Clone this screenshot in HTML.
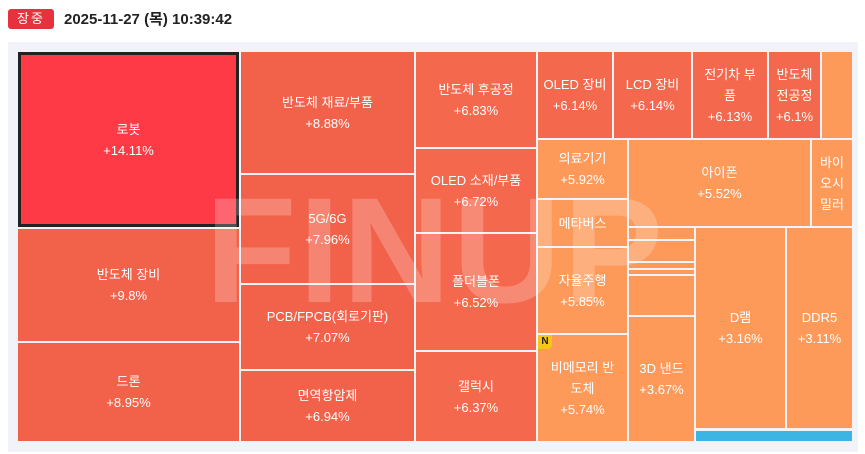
<!DOCTYPE html>
<html><head><meta charset="utf-8"><style>
body{margin:0;width:865px;height:454px;background:#fff;font-family:"Liberation Sans","Noto Sans CJK KR",sans-serif;position:relative;overflow:hidden}
.badge{position:absolute;left:8px;top:9px;width:46px;height:20px;background:#e5323c;color:#fff;font-size:13px;line-height:20px;text-align:center;border-radius:3px;letter-spacing:2px}
.time{position:absolute;left:64px;top:9px;font-size:15px;font-weight:bold;color:#222;line-height:22px}
.box{position:absolute;left:8px;top:42px;width:850px;height:410px;background:#f1f3f8}
.c{position:absolute;color:#fff;font-size:13px;line-height:21px;display:flex;align-items:center;justify-content:center;text-align:center;box-sizing:border-box}
.r{background:#f2624b}.o{background:#fd9a5a}.m{background:#f4694d}
.wm{position:absolute;left:205px;top:175px;font-size:150px;font-weight:bold;color:rgba(255,255,255,0.22);letter-spacing:2px;font-family:"Liberation Sans",sans-serif;line-height:150px}
</style></head><body>
<div class="badge">장중</div>
<div class="time">2025-11-27 (목) 10:39:42</div>
<div class="box"></div>
<div class="c" style="left:18px;top:52px;width:221px;height:175px;background:#ff3a47;border:3px solid #222">로봇<br>+14.11%</div>
<div class="c r" style="left:18px;top:229px;width:221px;height:112px">반도체 장비<br>+9.8%</div>
<div class="c r" style="left:18px;top:343px;width:221px;height:98px">드론<br>+8.95%</div>
<div class="c r" style="left:241px;top:52px;width:173px;height:121px">반도체 재료/부품<br>+8.88%</div>
<div class="c r" style="left:241px;top:175px;width:173px;height:108px">5G/6G<br>+7.96%</div>
<div class="c r" style="left:241px;top:285px;width:173px;height:84px">PCB/FPCB(회로기판)<br>+7.07%</div>
<div class="c r" style="left:241px;top:371px;width:173px;height:70px">면역항암제<br>+6.94%</div>
<div class="c m" style="left:416px;top:52px;width:120px;height:95px">반도체 후공정<br>+6.83%</div>
<div class="c m" style="left:416px;top:149px;width:120px;height:83px">OLED 소재/부품<br>+6.72%</div>
<div class="c m" style="left:416px;top:234px;width:120px;height:116px">폴더블폰<br>+6.52%</div>
<div class="c m" style="left:416px;top:352px;width:120px;height:89px">갤럭시<br>+6.37%</div>
<div class="c m" style="left:538px;top:52px;width:74px;height:86px">OLED 장비<br>+6.14%</div>
<div class="c m" style="left:614px;top:52px;width:77px;height:86px">LCD 장비<br>+6.14%</div>
<div class="c m" style="left:693px;top:52px;width:74px;height:86px">전기차 부<br>품<br>+6.13%</div>
<div class="c m" style="left:769px;top:52px;width:51px;height:86px">반도체<br>전공정<br>+6.1%</div>
<div class="c o" style="left:822px;top:52px;width:30px;height:86px"></div>
<div class="c o" style="left:538px;top:140px;width:89px;height:58px">의료기기<br>+5.92%</div>
<div class="c o" style="left:538px;top:200px;width:89px;height:46px">메타버스</div>
<div class="c o" style="left:538px;top:248px;width:89px;height:85px">자율주행<br>+5.85%</div>
<div class="c o" style="left:538px;top:335px;width:89px;height:106px">비메모리 반<br>도체<br>+5.74%</div>
<div style="position:absolute;left:538px;top:335px;width:14px;height:14px;background:#f5c518;border-radius:0 0 4px 0;font-size:10px;font-weight:bold;color:#222;text-align:center;line-height:14px">N</div>
<div class="c o" style="left:629px;top:140px;width:181px;height:86px">아이폰<br>+5.52%</div>
<div class="c o" style="left:812px;top:140px;width:40px;height:86px">바이<br>오시<br>밀러</div>
<div class="c o" style="left:629px;top:228px;width:65px;height:11px"></div>
<div class="c o" style="left:629px;top:241px;width:65px;height:20px"></div>
<div class="c o" style="left:629px;top:263px;width:65px;height:5px"></div>
<div class="c o" style="left:629px;top:270px;width:65px;height:4px"></div>
<div class="c o" style="left:629px;top:276px;width:65px;height:39px"></div>
<div class="c o" style="left:629px;top:317px;width:65px;height:124px">3D 낸드<br>+3.67%</div>
<div class="c o" style="left:696px;top:228px;width:89px;height:200px">D램<br>+3.16%</div>
<div class="c o" style="left:787px;top:228px;width:65px;height:200px">DDR5<br>+3.11%</div>
<div class="c" style="left:696px;top:431px;width:156px;height:10px;background:#3db5e4"></div>
<div class="wm">FINUP</div>
</body></html>
